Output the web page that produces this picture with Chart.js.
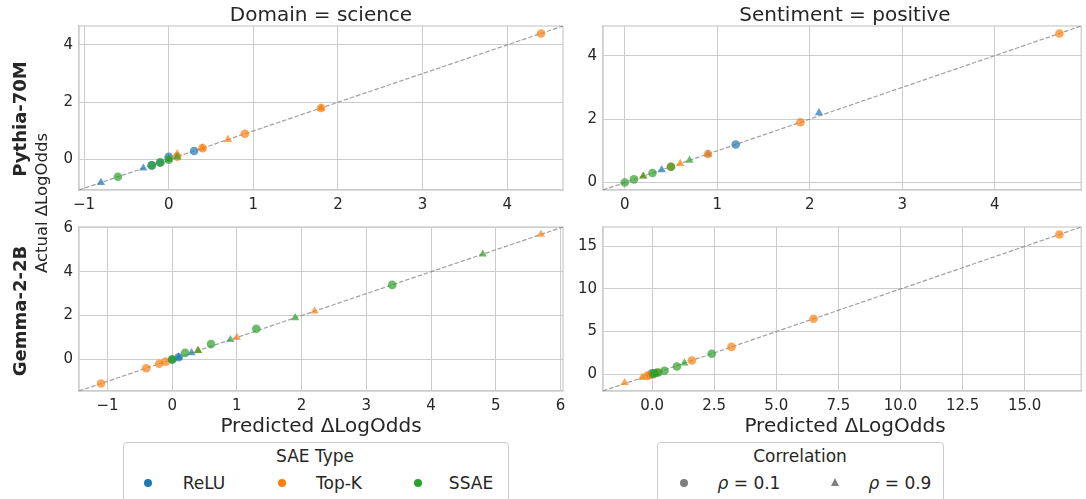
<!DOCTYPE html>
<html>
<head>
<meta charset="utf-8">
<script src="https://cdn.jsdelivr.net/npm/chart.js@4.4.1/dist/chart.umd.min.js"></script>
<style>
body{margin:0;background:#fff;font-family:"DejaVu Sans",sans-serif;color:#262626;}
#wrap{position:relative;width:1086px;height:499px;overflow:hidden;}
#wrap canvas{position:absolute;}
.lbl{position:absolute;transform:translate(-50%,-50%);white-space:nowrap;font-size:20px;}
.rot{transform:translate(-50%,-50%) rotate(-90deg);}
.box{position:absolute;top:442px;height:80px;border:1px solid #cccccc;border-radius:4px;background:#fff;}
.dot{position:absolute;width:8px;height:8px;border-radius:50%;transform:translate(-50%,-50%);}
.tri{position:absolute;width:0;height:0;border-left:4.5px solid transparent;border-right:4.5px solid transparent;border-bottom:8px solid #7f7f7f;transform:translate(-50%,-50%);}
</style>
</head>
<body>
<div id="wrap">
  <canvas id="c1" width="572" height="210" style="left:0;top:0"></canvas>
  <canvas id="c2" width="514" height="210" style="left:572px;top:0"></canvas>
  <canvas id="c3" width="572" height="205" style="left:0;top:210px"></canvas>
  <canvas id="c4" width="514" height="205" style="left:572px;top:210px"></canvas>

  <div class="lbl" style="left:321px;top:14px">Domain = science</div>
  <div class="lbl" style="left:845px;top:14px">Sentiment = positive</div>
  <div class="lbl" style="left:321px;top:425px">Predicted ΔLogOdds</div>
  <div class="lbl" style="left:845px;top:425px">Predicted ΔLogOdds</div>
  <div class="lbl rot" style="left:41px;top:203px;font-size:16.5px">Actual ΔLogOdds</div>
  <div class="lbl rot" style="left:19px;top:119px;font-size:18px;font-weight:bold">Pythia-70M</div>
  <div class="lbl rot" style="left:19px;top:311px;font-size:18px;font-weight:bold">Gemma-2-2B</div>

  <div class="box" style="left:123px;width:384px"></div>
  <div class="lbl" style="left:315px;top:456px;font-size:17px">SAE Type</div>
  <div class="dot" style="left:148px;top:483px;background:#1f77b4"></div>
  <div class="lbl" style="left:204px;top:483px;font-size:17px">ReLU</div>
  <div class="dot" style="left:282px;top:483px;background:#ff7f0e"></div>
  <div class="lbl" style="left:339px;top:483px;font-size:17px">Top-K</div>
  <div class="dot" style="left:418px;top:483px;background:#2ca02c"></div>
  <div class="lbl" style="left:471px;top:483px;font-size:17px">SSAE</div>

  <div class="box" style="left:657px;width:285px"></div>
  <div class="lbl" style="left:800px;top:456px;font-size:17px">Correlation</div>
  <div class="dot" style="left:684px;top:483px;background:#7f7f7f"></div>
  <div class="lbl" style="left:749px;top:483px;font-size:17px"><i>ρ</i> = 0.1</div>
  <div class="tri" style="left:835px;top:482px"></div>
  <div class="lbl" style="left:900px;top:483px;font-size:17px"><i>ρ</i> = 0.9</div>
</div>

<script>
// categories
const saeTypes = ["ReLU", "Top-K", "SSAE"];
const rhoValues = [0.1, 0.9];

// [SAE type, rho, predicted, actual]
const pythiaScience = [
  ["ReLU", 0.9, -0.8, -0.8],
  ["SSAE", 0.1, -0.6, -0.6],
  ["ReLU", 0.9, -0.3, -0.3],
  ["ReLU", 0.1, -0.2, -0.2],
  ["SSAE", 0.1, -0.2, -0.2],
  ["ReLU", 0.1, -0.1, -0.1],
  ["SSAE", 0.1, -0.1, -0.1],
  ["ReLU", 0.1, 0.0, 0.1],
  ["SSAE", 0.1, 0.0, 0.0],
  ["SSAE", 0.9, 0.0, 0.0],
  ["Top-K", 0.9, 0.1, 0.2],
  ["Top-K", 0.1, 0.1, 0.1],
  ["SSAE", 0.9, 0.1, 0.1],
  ["ReLU", 0.1, 0.3, 0.3],
  ["Top-K", 0.1, 0.4, 0.4],
  ["Top-K", 0.9, 0.4, 0.4],
  ["Top-K", 0.9, 0.7, 0.7],
  ["Top-K", 0.1, 0.9, 0.9],
  ["Top-K", 0.1, 1.8, 1.8],
  ["Top-K", 0.9, 1.8, 1.8],
  ["Top-K", 0.1, 4.4, 4.4]
];

const pythiaSentiment = [
  ["SSAE", 0.1, 0.0, 0.0],
  ["SSAE", 0.1, 0.1, 0.1],
  ["SSAE", 0.9, 0.2, 0.2],
  ["Top-K", 0.9, 0.2, 0.2],
  ["SSAE", 0.1, 0.3, 0.3],
  ["ReLU", 0.9, 0.4, 0.4],
  ["SSAE", 0.1, 0.5, 0.5],
  ["Top-K", 0.1, 0.5, 0.5],
  ["Top-K", 0.9, 0.6, 0.6],
  ["SSAE", 0.9, 0.7, 0.7],
  ["ReLU", 0.9, 0.9, 0.9],
  ["Top-K", 0.1, 0.9, 0.9],
  ["ReLU", 0.1, 1.2, 1.2],
  ["Top-K", 0.1, 1.9, 1.9],
  ["ReLU", 0.9, 2.1, 2.2],
  ["Top-K", 0.1, 4.7, 4.7]
];

const gemmaScience = [
  ["Top-K", 0.1, -1.1, -1.1],
  ["Top-K", 0.1, -0.4, -0.4],
  ["Top-K", 0.1, -0.2, -0.2],
  ["Top-K", 0.1, -0.1, -0.1],
  ["ReLU", 0.1, 0.0, 0.0],
  ["SSAE", 0.1, 0.0, 0.0],
  ["SSAE", 0.9, 0.0, 0.0],
  ["ReLU", 0.1, 0.1, 0.1],
  ["ReLU", 0.9, 0.1, 0.1],
  ["SSAE", 0.1, 0.2, 0.3],
  ["ReLU", 0.9, 0.3, 0.3],
  ["Top-K", 0.9, 0.4, 0.4],
  ["SSAE", 0.9, 0.4, 0.4],
  ["SSAE", 0.1, 0.6, 0.7],
  ["SSAE", 0.9, 0.9, 0.9],
  ["Top-K", 0.9, 1.0, 1.0],
  ["SSAE", 0.1, 1.3, 1.4],
  ["SSAE", 0.9, 1.9, 1.9],
  ["Top-K", 0.9, 2.2, 2.2],
  ["SSAE", 0.1, 3.4, 3.4],
  ["SSAE", 0.9, 4.8, 4.8],
  ["Top-K", 0.9, 5.7, 5.7]
];

const gemmaSentiment = [
  ["Top-K", 0.9, -1.1, -1.0],
  ["Top-K", 0.9, -0.4, -0.4],
  ["Top-K", 0.1, -0.2, -0.2],
  ["Top-K", 0.1, -0.1, -0.1],
  ["ReLU", 0.1, 0.0, 0.1],
  ["SSAE", 0.1, 0.05, 0.0],
  ["SSAE", 0.1, 0.1, 0.1],
  ["SSAE", 0.9, 0.15, 0.1],
  ["Top-K", 0.1, 0.2, 0.2],
  ["SSAE", 0.1, 0.25, 0.2],
  ["SSAE", 0.1, 0.5, 0.4],
  ["SSAE", 0.1, 1.0, 0.9],
  ["SSAE", 0.9, 1.3, 1.3],
  ["Top-K", 0.1, 1.6, 1.6],
  ["SSAE", 0.1, 2.4, 2.4],
  ["Top-K", 0.1, 3.2, 3.2],
  ["Top-K", 0.1, 6.5, 6.5],
  ["Top-K", 0.1, 16.4, 16.4]
];

// tick labels
const pythiaScienceXTicks = [-1, 0, 1, 2, 3, 4];
const pythiaScienceYTicks = [0, 2, 4];
const pythiaSentimentXTicks = [0, 1, 2, 3, 4];
const pythiaSentimentYTicks = [0, 2, 4];
const gemmaScienceXTicks = [-1, 0, 1, 2, 3, 4, 5, 6];
const gemmaScienceYTicks = [0, 2, 4, 6];
const gemmaSentimentXTicks = [0, 2.5, 5, 7.5, 10, 12.5, 15];
const gemmaSentimentYTicks = [0, 5, 10, 15];

const colors = {
  "ReLU": "rgba(31,119,180,0.7)",
  "Top-K": "rgba(255,127,14,0.7)",
  "SSAE": "rgba(44,160,44,0.7)"
};
// lower order is drawn on top
const layer = {"ReLU": 3, "Top-K": 2, "SSAE": 1};
const shapes = {0.1: "circle", 0.9: "triangle"};

const frame = {
  id: "frame",
  beforeDatasetsDraw(chart) {
    const a = chart.chartArea, ctx = chart.ctx;
    ctx.save();
    ctx.strokeStyle = "#cccccc";
    ctx.lineWidth = 1.25;
    ctx.strokeRect(a.left, a.top, a.right - a.left, a.bottom - a.top);
    ctx.restore();
  }
};

function fmt(v, dec) {
  return v.toFixed(dec).replace("-", "\u2212");
}

function makeChart(id, rows, xTicks, yTicks, dec, yWidth, xHeight, pad) {
  let lo = Infinity, hi = -Infinity;
  rows.forEach(r => { lo = Math.min(lo, r[2], r[3]); hi = Math.max(hi, r[2], r[3]); });
  const m = (hi - lo) * 0.05;
  const mn = lo - m, mx = hi + m;

  const datasets = [{
    type: "line",
    data: [{x: mn, y: mn}, {x: mx, y: mx}],
    borderColor: "rgba(128,128,128,0.75)",
    borderWidth: 1.2,
    borderDash: [4.5, 2],
    pointRadius: 0,
    order: 10
  }];
  saeTypes.forEach(t => {
    rhoValues.forEach(rho => {
      const pts = rows.filter(r => r[0] === t && r[1] === rho).map(r => ({x: r[2], y: r[3]}));
      if (!pts.length) return;
      datasets.push({
        data: pts,
        backgroundColor: colors[t],
        borderWidth: 0,
        pointStyle: shapes[rho],
        pointRadius: rho === 0.9 ? 4.8 : 4.3,
        order: layer[t]
      });
    });
  });

  const axis = (ticks, d, fit) => ({
    type: "linear",
    min: mn,
    max: mx,
    afterBuildTicks: s => { s.ticks = ticks.map(v => ({value: v})); },
    afterFit: fit,
    grid: {color: "#cccccc", lineWidth: 1, drawTicks: false},
    border: {color: "#cccccc", width: 1.25},
    ticks: {
      color: "#262626",
      font: {family: "DejaVu Sans", size: 15},
      padding: 6,
      callback: v => fmt(v, d)
    }
  });

  new Chart(document.getElementById(id), {
    type: "scatter",
    data: {datasets: datasets},
    options: {
      responsive: false,
      animation: false,
      devicePixelRatio: 1,
      layout: {padding: pad},
      plugins: {legend: {display: false}, tooltip: {enabled: false}},
      scales: {
        x: axis(xTicks, dec, s => { s.height = xHeight; }),
        y: axis(yTicks, 0, s => { s.width = yWidth; })
      }
    },
    plugins: [frame]
  });
}

makeChart("c1", pythiaScience, pythiaScienceXTicks, pythiaScienceYTicks, 0, 79, 20, {left: 0, top: 26, right: 9, bottom: 0});
makeChart("c2", pythiaSentiment, pythiaSentimentXTicks, pythiaSentimentYTicks, 0, 31, 20, {left: 0, top: 26, right: 0, bottom: 0});
makeChart("c3", gemmaScience, gemmaScienceXTicks, gemmaScienceYTicks, 0, 79, 24, {left: 0, top: 17, right: 9, bottom: 0});
makeChart("c4", gemmaSentiment, gemmaSentimentXTicks, gemmaSentimentYTicks, 1, 31, 24, {left: 0, top: 17, right: 0, bottom: 0});
</script>
</body>
</html>
